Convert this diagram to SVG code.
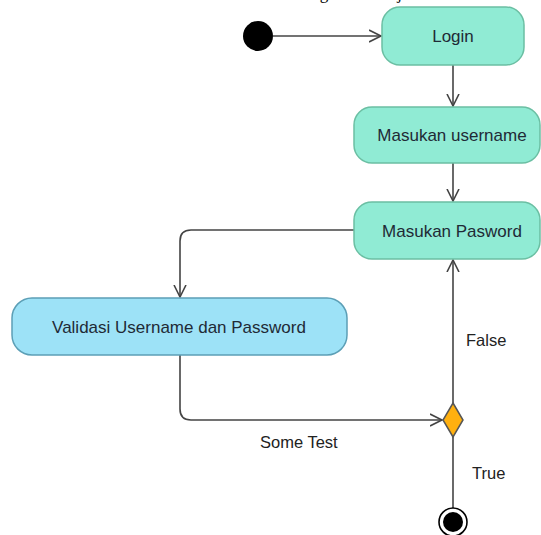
<svg xmlns="http://www.w3.org/2000/svg" width="541" height="535" viewBox="0 0 541 535">
<style>
.act{fill:#90EBD4;stroke:#6BBFA3;stroke-width:1.5}
.val{fill:#9DE2F7;stroke:#5C9FB6;stroke-width:1.5}
.t{font-family:"Liberation Sans",Arial,sans-serif;font-size:17px;fill:#1f2a36;text-anchor:middle;dominant-baseline:central}
.lbl{font-family:"Liberation Sans",Arial,sans-serif;font-size:16.5px;fill:#222;dominant-baseline:central}
.c{fill:none;stroke:#444;stroke-width:1.6}
</style>
<defs>
<marker id="arr" markerUnits="userSpaceOnUse" markerWidth="14" markerHeight="14" refX="12" refY="6.5" orient="auto" viewBox="0 0 14 13">
<path d="M0,0.5 L12,6.5 L0,12.5" fill="none" stroke="#444" stroke-width="1.6"/>
</marker>
</defs>
<text x="-4" y="-1" font-family="Liberation Serif,serif" font-size="17" fill="#000">an data siswa dan nilai siswa secara online sebagai berikut ja</text>
<g id="connectors">
<path class="c" d="M273,36 L381,36" marker-end="url(#arr)"/>
<path class="c" d="M453,65 L453,106" marker-end="url(#arr)"/>
<path class="c" d="M453,163 L453,201" marker-end="url(#arr)"/>
<path class="c" d="M354,230 L191,230 Q180,230 180,241 L180,297" marker-end="url(#arr)"/>
<path class="c" d="M180,355 L180,409 Q180,420 191,420 L442,420" marker-end="url(#arr)"/>
<path class="c" d="M453,403 L453,260" marker-end="url(#arr)"/>
<path class="c" d="M453,437 L453,508"/>
</g>
<g id="start"><circle cx="258" cy="36" r="15" fill="#000"/></g>
<g id="login"><rect class="act" x="382" y="7" width="142" height="58" rx="18"/><text class="t" x="453" y="36">Login</text></g>
<g id="username"><rect class="act" x="354" y="107" width="186" height="56" rx="18"/><text class="t" x="452" y="135">Masukan username</text></g>
<g id="password"><rect class="act" x="354" y="202" width="186" height="57" rx="18"/><text class="t" x="452" y="231">Masukan Pasword</text></g>
<g id="validasi"><rect class="val" x="12" y="298" width="335" height="57" rx="20"/><text class="t" x="179" y="327">Validasi Username dan Password</text></g>
<g id="decision"><path d="M453,403 L463,420 L453,437 L443,420 Z" fill="#FFB00F" stroke="#555" stroke-width="1.5"/></g>
<g id="end"><circle cx="453" cy="522" r="14" fill="#fff" stroke="#000" stroke-width="1.6"/><circle cx="453" cy="522" r="10" fill="#000"/></g>
<g id="labels">
<text class="lbl" x="260" y="442">Some Test</text>
<text class="lbl" x="466" y="340">False</text>
<text class="lbl" x="472" y="473">True</text>
</g>
</svg>
